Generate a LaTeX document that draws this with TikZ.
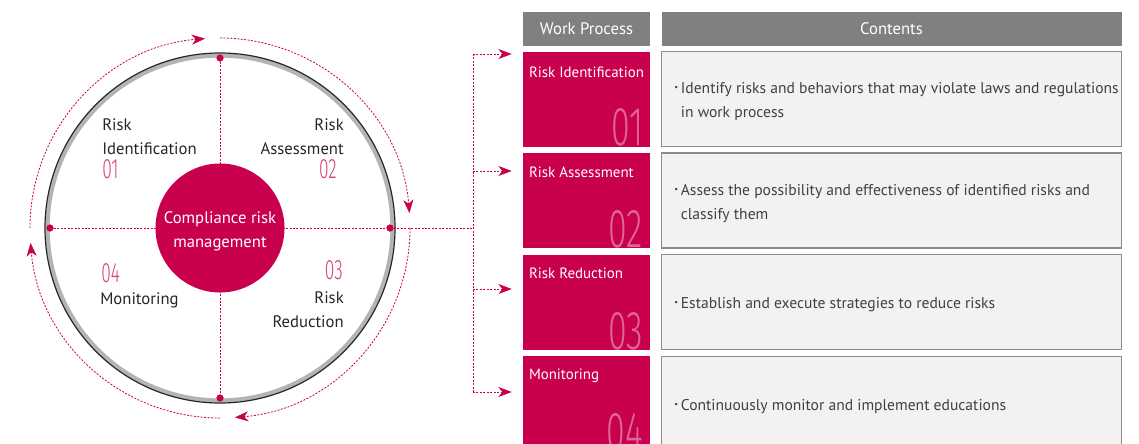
\documentclass[tikz,border=0pt]{standalone}
\usepackage{fontspec}
\setmainfont{PT Sans}
\newfontfamily\thinfont{Fira Sans Light}[FakeStretch=0.62]
\usetikzlibrary{arrows.meta,positioning}

\definecolor{crp}{HTML}{C8004E}
\definecolor{hdgray}{HTML}{808080}
\definecolor{cellgray}{HTML}{F2F2F2}
\definecolor{cellline}{HTML}{8C8C8C}
\definecolor{ringgray}{HTML}{B4B4B4}
\definecolor{txtgray}{HTML}{404040}

\begin{document}
\begin{tikzpicture}[x=0.75pt,y=-0.75pt,>={Stealth[length=10pt,width=7.5pt,inset=3pt]}]
\tikzset{
head/.style = {fill=hdgray, text=white, minimum height=25.5pt, inner sep=0pt, font=\fontsize{12.5}{14}\selectfont},
stage/.style = {fill=crp, minimum width=95.25pt, minimum height=71.25pt, inner sep=0pt},
cell/.style = {draw=cellline, fill=cellgray, line width=0.9pt, minimum width=345pt, minimum height=71.25pt, inner sep=0pt},
stagelabel/.style = {text=white, inner sep=0pt, anchor=base west, font=\fontsize{11.2}{13}\selectfont},
bignum/.style = {text=crp!60!white, inner sep=0pt, anchor=south east, font=\thinfont\fontsize{41}{41}\selectfont},
celltext/.style = {text=txtgray, inner sep=0pt, anchor=west, align=left, font=\fontsize{11.7}{18}\selectfont},
disc/.style = {circle, fill=crp, text=white, minimum size=96.75pt, inner sep=0pt},
disctext/.style = {text=white, inner sep=0pt, align=center, font=\fontsize{12.5}{18}\selectfont},
dot/.style = {circle, fill=crp, minimum size=5.25pt, inner sep=0pt},
guide/.style = {draw=crp, line width=0.6pt, dash pattern=on 1.5pt off 1.1pt},
phase/.style = {inner sep=0pt, text=black!85, font=\fontsize{12.5}{18}\selectfont},
phasenum/.style = {inner sep=0pt, text=crp!75!white, font=\thinfont\fontsize{21}{22}\selectfont}
}
\newcommand{\bul}{\makebox[5.5pt][l]{\fontsize{15}{15}\selectfont ·}}
\useasboundingbox (0,0) rectangle (1139,443);

% table on the right
\node [head, minimum width=95.25pt](wp) at (586.5,29) {Work Process};
\node [head, minimum width=345pt, right = 8.25pt of wp](ct) {Contents};
\node [stage, below = 3.75pt of wp](stage1) {};
\node [stage, below = 4.5pt of stage1](stage2) {};
\node [stage, below = 4.5pt of stage2](stage3) {};
\node [stage, below = 4.5pt of stage3](stage4) {};
\node [cell, right = 8.25pt of stage1](cell1) {};
\node [cell, right = 8.25pt of stage2](cell2) {};
\node [cell, right = 8.25pt of stage3](cell3) {};
\node [cell, right = 8.25pt of stage4](cell4) {};

\node [stagelabel](lbl1) at ([shift={(6,26)}]stage1.north west) {Risk Identification};
\node [stagelabel](lbl2) at ([shift={(6,25)}]stage2.north west) {Risk Assessment};
\node [stagelabel](lbl3) at ([shift={(6,24)}]stage3.north west) {Risk Reduction};
\node [stagelabel](lbl4) at ([shift={(6,24)}]stage4.north west) {Monitoring};
\node [bignum](num1) at ([shift={(-7,0)}]stage1.south east) {01};
\node [bignum](num2) at ([shift={(-7,0)}]stage2.south east) {02};
\node [bignum](num3) at ([shift={(-7,0)}]stage3.south east) {03};
\node [bignum](num4) at ([shift={(-7,0)}]stage4.south east) {04};

\node [celltext](txt1) at ([shift={(12,3)}]cell1.west) {\bul Identify risks and behaviors that may violate laws and regulations\\\hspace*{5.5pt}in work process};
\node [celltext](txt2) at ([shift={(12,3)}]cell2.west) {\bul Assess the possibility and effectiveness of identified risks and\\\hspace*{5.5pt}classify them};
\node [celltext](txt3) at ([shift={(12,3)}]cell3.west) {\bul Establish and execute strategies to reduce risks};
\node [celltext](txt4) at ([shift={(12,3)}]cell4.west) {\bul Continuously monitor and implement educations};

% cycle on the left
\coordinate (hub) at (220,228);
\draw [ringgray, line width=3.2pt] (hub) circle [radius=172.5];
\draw [black!85, line width=0.9pt] (hub) circle [radius=175];

\node [dot](ntop) at (220,58) {};
\node [dot](nbot) at (220,398) {};
\node [dot](nleft) at (50,228) {};
\node [dot](nright) at (390,228) {};
\coordinate (bus) at (473,228);
\coordinate (b1) at (473,54);
\coordinate (b2) at (473,171);
\coordinate (b3) at (473,289);
\coordinate (b4) at (473,392);

\draw [guide] (ntop) -- (nbot);
\draw [guide] (nleft) -- (nright);
\draw [guide] (nright) -- (bus);
\draw [guide] (b1) -- (b4);
\foreach \i in {1,...,4}
  \draw [guide, ->, shorten >=8.25pt] (b\i) -- (b\i -| stage\i.west);

\foreach \a in {-180,-90,0,90}
  \draw [guide, ->] ([shift={(\a:190)}]hub) arc [start angle=\a, end angle=\a+85.5, radius=190];

\node [disc](core) at (hub) {};
\node [disctext](coretext) at ([shift={(0,3)}]hub) {Compliance risk\\management};
\node [dot] at (ntop) {};
\node [dot] at (nbot) {};
\node [dot] at (nleft) {};
\node [dot] at (nright) {};

% last-line baselines
\node [phase, anchor=base west, align=left](ph1) at (102,154) {Risk\\Identification};
\node [phasenum, anchor=base west](pn1) at (102,178) {01};
\node [phase, anchor=base east, align=right](ph2) at (344,154) {Risk\\Assessment};
\node [phasenum, anchor=base east](pn2) at (337,178) {02};
\node [phasenum, anchor=base east](pn3) at (343,279) {03};
\node [phase, anchor=base east, align=right](ph3) at (344,327) {Risk\\Reduction};
\node [phasenum, anchor=base west](pn4) at (101,282) {04};
\node [phase, anchor=base west](ph4) at (100,304) {Monitoring};
\end{tikzpicture}
\end{document}
